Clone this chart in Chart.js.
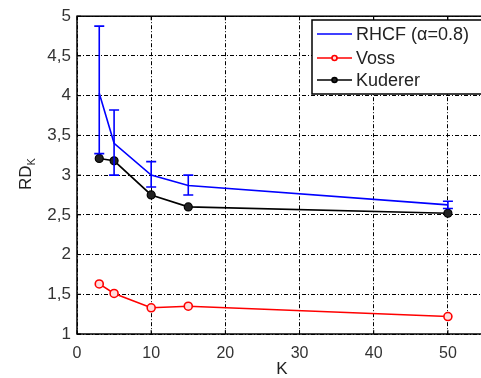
<!DOCTYPE html>
<html><head><meta charset="utf-8">
<script src="https://cdn.jsdelivr.net/npm/chart.js@4/dist/chart.umd.min.js"></script>
<style>html,body{margin:0;padding:0;overflow:hidden;background:#fff}canvas{display:block}</style>
</head><body>
<canvas id="c" width="500" height="378"></canvas>
<script>
const K = [3, 5, 10, 15, 50];
const rhcf = [4.03, 3.40, 3.00, 2.87, 2.625];
const rhcfHigh = [4.875, 3.82, 3.17, 3.00, 2.67];
const rhcfLow = [3.27, 3.00, 2.85, 2.75, 2.58];
const voss = [1.63, 1.51, 1.33, 1.35, 1.22];
const kuderer = [3.21, 3.18, 2.75, 2.60, 2.52];
const xTickValues = [0, 10, 20, 30, 40, 50];
const yTickValues = [1, 1.5, 2, 2.5, 3, 3.5, 4, 4.5, 5];
const seriesNames = ['RHCF (\u03b1=0.8)', 'Voss', 'Kuderer'];

const FONT = '"Liberation Sans", Arial, sans-serif';
const pts = arr => K.map((k, i) => ({x: k, y: arr[i]}));

const extras = {
  id: 'extras',
  afterDatasetsDraw(chart) {
    const ctx = chart.ctx, xs = chart.scales.x, ys = chart.scales.y, a = chart.chartArea;
    // error bars for RHCF
    ctx.save();
    ctx.strokeStyle = '#0000ff'; ctx.lineWidth = 1.6;
    K.forEach((k, i) => {
      const px = xs.getPixelForValue(k);
      const t = ys.getPixelForValue(rhcfHigh[i]), b = ys.getPixelForValue(rhcfLow[i]);
      ctx.beginPath();
      ctx.moveTo(px, t); ctx.lineTo(px, b);
      ctx.moveTo(px - 5, t); ctx.lineTo(px + 5, t);
      ctx.moveTo(px - 5, b); ctx.lineTo(px + 5, b);
      ctx.stroke();
    });
    ctx.restore();
    // plot border + small inward tick marks
    ctx.save();
    ctx.strokeStyle = '#000'; ctx.lineWidth = 1.5;
    ctx.strokeRect(a.left, a.top, a.right - a.left, a.bottom - a.top);
    ctx.lineWidth = 1;
    ctx.beginPath();
    xTickValues.forEach(v => { const p = xs.getPixelForValue(v);
      ctx.moveTo(p, a.bottom); ctx.lineTo(p, a.bottom - 4);
      ctx.moveTo(p, a.top); ctx.lineTo(p, a.top + 4); });
    yTickValues.forEach(v => { const p = ys.getPixelForValue(v);
      ctx.moveTo(a.left, p); ctx.lineTo(a.left + 4, p); });
    ctx.stroke();
    ctx.restore();
    // legend
    ctx.save();
    const lx = 312, ly = 20, lw = 170, lh = 74;
    ctx.fillStyle = '#fff'; ctx.fillRect(lx, ly, lw, lh);
    ctx.strokeStyle = '#000'; ctx.lineWidth = 1.5; ctx.strokeRect(lx, ly, lw, lh);
    const rows = [34, 58, 80];
    chart.data.datasets.forEach((ds, i) => {
      const y = rows[i];
      ctx.strokeStyle = ds.borderColor; ctx.lineWidth = 1.6;
      ctx.beginPath(); ctx.moveTo(317, y); ctx.lineTo(352, y); ctx.stroke();
      if (ds.pointRadius > 0) {
        ctx.beginPath(); ctx.arc(334.5, y, 2.5, 0, Math.PI * 2);
        ctx.fillStyle = ds.pointBackgroundColor; ctx.fill();
        ctx.strokeStyle = ds.pointBorderColor; ctx.stroke();
      }
      ctx.fillStyle = '#222'; ctx.font = '18px ' + FONT;
      ctx.textBaseline = 'middle'; ctx.textAlign = 'left';
      ctx.fillText(seriesNames[i], 356, y + 1);
    });
    ctx.restore();
    // y title RD_K
    ctx.save();
    ctx.translate(25, 174); ctx.rotate(-Math.PI / 2);
    ctx.fillStyle = '#222'; ctx.textBaseline = 'alphabetic'; ctx.textAlign = 'left';
    ctx.font = '17px ' + FONT;
    const w = ctx.measureText('RD').width;
    ctx.font = '11px ' + FONT;
    const w2 = ctx.measureText('K').width;
    const start = -(w + w2) / 2;
    ctx.font = '17px ' + FONT;
    ctx.fillText('RD', start, 6);
    ctx.font = '11px ' + FONT;
    ctx.fillText('K', start + w, 10);
    ctx.restore();
    // x title
    ctx.save();
    ctx.fillStyle = '#222'; ctx.font = '17px ' + FONT;
    ctx.textAlign = 'center'; ctx.textBaseline = 'middle';
    ctx.fillText('K', 282, 369);
    ctx.restore();
  }
};

const gridOpts = {color: '#000', lineWidth: 1, drawTicks: false};
new Chart(document.getElementById('c'), {
  type: 'line',
  data: {
    datasets: [
      {label: seriesNames[0], data: pts(rhcf), borderColor: '#0000ff', borderWidth: 1.6,
       pointRadius: 0, pointBackgroundColor: '#0000ff', pointBorderColor: '#0000ff', tension: 0},
      {label: seriesNames[1], data: pts(voss), borderColor: '#ff0000', borderWidth: 1.6,
       pointRadius: 4, pointBackgroundColor: '#ffdddd', pointBorderColor: '#ff0000', pointBorderWidth: 1.6, tension: 0},
      {label: seriesNames[2], data: pts(kuderer), borderColor: '#000000', borderWidth: 1.6,
       pointRadius: 4, pointBackgroundColor: '#222', pointBorderColor: '#000', pointBorderWidth: 1.2, tension: 0}
    ]
  },
  options: {
    responsive: false, animation: false,
    layout: {padding: {top: 14, right: 15, left: 0, bottom: 0}},
    plugins: {legend: {display: false}, tooltip: {enabled: false}},
    scales: {
      x: {
        type: 'linear', min: 0, max: 55,
        afterBuildTicks: s => { s.ticks = xTickValues.map(v => ({value: v})); },
        afterFit: s => { s.height = 44; },
        grid: gridOpts,
        border: {display: false, dash: [4, 2, 1, 2]},
        ticks: {padding: 10, color: '#333', font: {family: FONT, size: 16}, maxRotation: 0}
      },
      y: {
        type: 'linear', min: 1, max: 5,
        afterBuildTicks: s => { s.ticks = yTickValues.map(v => ({value: v})); },
        afterFit: s => { s.width = 77; },
        grid: gridOpts,
        border: {display: false, dash: [4, 2, 1, 2]},
        ticks: {padding: 6, color: '#333', font: {family: FONT, size: 17},
                callback: v => String(v).replace('.', ',')}
      }
    }
  },
  plugins: [extras]
});
</script>
</body></html>
